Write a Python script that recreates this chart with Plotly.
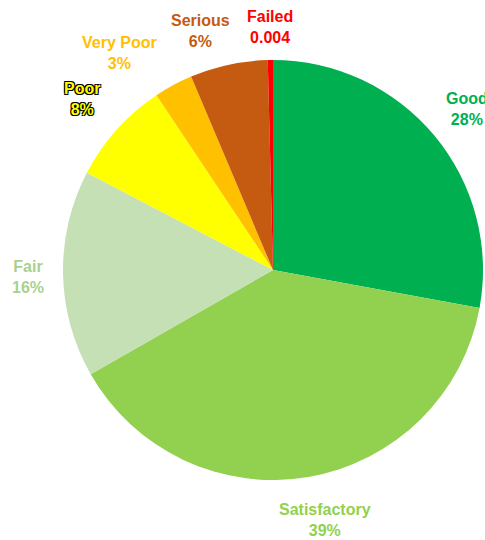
import math
import plotly.graph_objects as go

# ---- data ----
categories = ["Good", "Satisfactory", "Fair", "Poor", "Very Poor", "Serious", "Failed"]
values = [28, 39, 16, 8, 3, 6, 0.4]
value_labels = ["28%", "39%", "16%", "8%", "3%", "6%", "0.004"]

# ---- style ----
slice_colors = ["#00B050", "#92D050", "#C5E0B4", "#FFFF00", "#FFC000", "#C55A11", "#FF0000"]
label_colors = ["#00B050", "#92D050", "#A9D18E", "#FFFF00", "#FFC000", "#C55A11", "#FF0000"]
label_nudge = [(0, 0), (10, 2), (7, 2), (-4, -3), (-34, 5), (-19, 7), (0, 9)]  # px (x right, y down)

W, H = 485, 540
cx, cy, R = 273, 270, 210  # pixel geometry of the pie
label_factor = 1.2

fig = go.Figure()
fig.add_trace(go.Pie(
    labels=categories,
    values=values,
    sort=False,
    direction="clockwise",
    rotation=0,
    marker=dict(colors=slice_colors, line=dict(width=0)),
    textinfo="none",
    hoverinfo="label+value",
    showlegend=False,
    domain=dict(x=[(cx - R) / W, (cx + R) / W], y=[(H - cy - R) / H, (H - cy + R) / H]),
))

total = sum(values)
cum = 0.0
annotations = []
for i, (cat, v) in enumerate(zip(categories, values)):
    mid = (cum + v / 2) / total * 2 * math.pi
    cum += v
    px = cx + label_factor * R * math.sin(mid) + label_nudge[i][0]
    py = cy - label_factor * R * math.cos(mid) + label_nudge[i][1]
    font = dict(family="Liberation Sans", size=16, color=label_colors[i], weight="bold")
    if cat == "Poor":
        font["shadow"] = "-1px -1px 0 #000, 1px -1px 0 #000, -1px 1px 0 #000, 1px 1px 0 #000"
    annotations.append(dict(
        x=px / W, y=1 - py / H, xref="paper", yref="paper",
        text=f"<b>{cat}</b><br><b>{value_labels[i]}</b>",
        showarrow=False, xanchor="center", yanchor="middle", align="center",
        font=font,
    ))

fig.update_layout(
    width=W, height=H,
    margin=dict(l=0, r=0, t=0, b=0),
    paper_bgcolor="white",
    plot_bgcolor="white",
    annotations=annotations,
)

fig.write_html("out.html")
